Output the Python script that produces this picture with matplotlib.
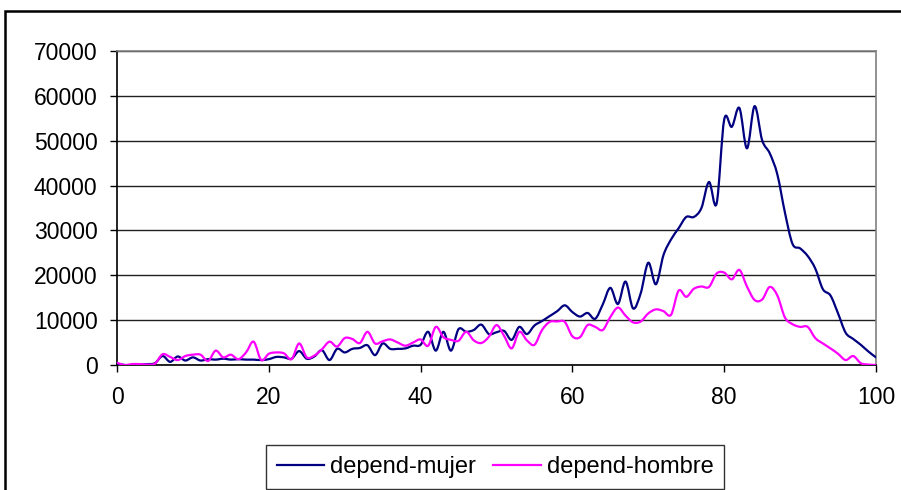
import numpy as np
import matplotlib
matplotlib.use('Agg')
import matplotlib.pyplot as plt
from matplotlib.path import Path
from matplotlib.patches import PathPatch, Rectangle
from matplotlib.lines import Line2D


#Data (ages 0..100)
edad = list(range(0, 101))

depend_mujer = [300, 0, 0, 100, 200, 400, 2000, 700, 1900, 1000,
	1700, 1000, 1300, 1200, 1400, 1200, 1300, 1200, 1200, 1100,
	1300, 1800, 1700, 1400, 3100, 1400, 1900, 3300, 1100, 3600,
	2800, 3600, 3800, 4400, 2200, 4800, 3600, 3600, 3700, 4300,
	4500, 7400, 3200, 7400, 3200, 8000, 7400, 7800, 9000, 6900,
	7300, 7600, 5600, 8500, 6900, 8800, 9800, 10900, 12000, 13300,
	11800, 10800, 11600, 10300, 13500, 17200, 13600, 18600, 12600, 16000,
	22800, 18000, 24500, 28000, 30500, 33000, 33000, 35000, 40800, 36000,
	54700, 53100, 57300, 48300, 57700, 50100, 47200, 42500, 34000, 27000,
	26000, 24300, 21500, 16900, 15500, 11500, 7200, 5800, 4500, 3000,
	1700]

depend_hombre = [500, 0, 200, 200, 100, 300, 2400, 1800, 1100, 2000,
	2300, 2300, 900, 3200, 1700, 2300, 1300, 2800, 5200, 1100,
	2500, 2800, 2600, 1300, 4800, 1700, 2100, 3500, 5200, 4100,
	6000, 5800, 4900, 7400, 4800, 5300, 5700, 5000, 4300, 5000,
	5700, 4300, 8500, 6200, 5600, 5400, 7400, 5500, 4900, 6300,
	8900, 6500, 3700, 7400, 5500, 4500, 7800, 9600, 9700, 9600,
	6400, 6200, 8900, 8500, 7800, 10700, 12800, 11000, 9500, 9700,
	11500, 12400, 12000, 11200, 16600, 15200, 17000, 17500, 17400, 20400,
	20600, 19100, 21200, 17500, 14500, 14600, 17400, 15500, 10600, 9100,
	8500, 8500, 6000, 4800, 3700, 2500, 1100, 2000, 400, 100,
	0]

series_names = ['depend-mujer', 'depend-hombre']
series_colors = ['#000080', '#FF00FF']

x_ticks = [0, 20, 40, 60, 80, 100]
y_ticks = [0, 10000, 20000, 30000, 40000, 50000, 60000, 70000]


#Smoothed line like the spreadsheet one (bezier segments through the points)
def smooth_path(x, y):
	x = np.asarray(x, dtype=float)
	y = np.asarray(y, dtype=float)
	n = len(x)
	verts = [(x[0], y[0])]
	codes = [Path.MOVETO]
	for i in range(n - 1):
		x0, y0 = (x[i - 1], y[i - 1]) if i > 0 else (x[i], y[i])
		x3, y3 = (x[i + 2], y[i + 2]) if i + 2 < n else (x[i + 1], y[i + 1])
		c1 = (x[i] + (x[i + 1] - x0) / 6.0, y[i] + (y[i + 1] - y0) / 6.0)
		c2 = (x[i + 1] - (x3 - x[i]) / 6.0, y[i + 1] - (y3 - y[i]) / 6.0)
		verts += [c1, c2, (x[i + 1], y[i + 1])]
		codes += [Path.CURVE4, Path.CURVE4, Path.CURVE4]
	return Path(verts, codes)


plt.rcParams['font.family'] = ['Liberation Sans', 'DejaVu Sans']

fig = plt.figure(figsize=(9.01, 4.90), dpi=100)
ax = fig.add_axes([117/901, 1 - 365/490, (876 - 117)/901, (365 - 51)/490])

#Outer chart frame (cut by the picture edge on the right and bottom)
fig.patches.append(Rectangle((5/901, -0.05), 1.2, 1 - 11/490 + 0.05, transform=fig.transFigure,
	fill=False, edgecolor='black', linewidth=1.8))

for yy, name, col in zip([depend_mujer, depend_hombre], series_names, series_colors):
	ax.add_patch(PathPatch(smooth_path(edad, yy), facecolor='none', edgecolor=col,
		linewidth=1.6, zorder=3, capstyle='round', joinstyle='round'))

ax.set_xlim(0, 100)
ax.set_ylim(0, 70000)
ax.set_xticks(x_ticks)
ax.set_yticks(y_ticks)
ax.set_xticklabels([str(t) for t in x_ticks])
ax.set_yticklabels([str(t) for t in y_ticks])
ax.tick_params(axis='both', labelsize=16.5, length=5, width=1, colors='black')
ax.tick_params(axis='x', pad=10)
ax.tick_params(axis='y', pad=9)

#Gridlines
ax.grid(axis='y', color='#202020', linewidth=1)
ax.set_axisbelow(True)

ax.spines['left'].set_color('black')
ax.spines['bottom'].set_color('black')
ax.spines['top'].set_color('#808080')
ax.spines['right'].set_color('#808080')
for s in ax.spines.values():
	s.set_linewidth(1.2)

#Legend at the bottom
handles = [Line2D([0], [0], color=c, linewidth=1.6) for c in series_colors]
leg = fig.legend(handles, series_names, loc='center', bbox_to_anchor=(495/901, 1 - 467/490),
	ncol=2, fontsize=17, frameon=True, fancybox=False, shadow=False, handlelength=2.0,
	handletextpad=0.25, columnspacing=0.75, borderpad=0.45, borderaxespad=0)
leg.get_frame().set_edgecolor('black')
leg.get_frame().set_linewidth(1.0)

fig.savefig('out.png', dpi=100)
